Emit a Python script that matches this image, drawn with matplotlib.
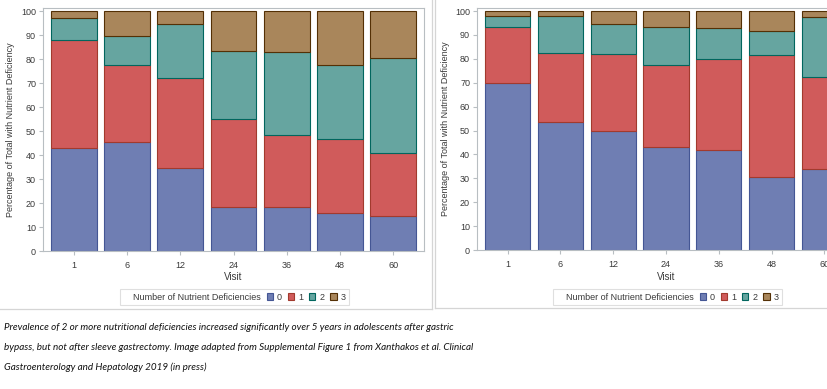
import matplotlib
matplotlib.use("Agg")
import matplotlib.pyplot as plt
from matplotlib.patches import Rectangle
from matplotlib.lines import Line2D
import numpy as np

visits = ['1', '6', '12', '24', '36', '48', '60']
categories = ['0', '1', '2', '3']

bypass_0 = [43, 45.5, 34.5, 18.5, 18.5, 16, 14.5]
bypass_1 = [45, 32, 37.5, 36.5, 30, 30.5, 26.5]
bypass_2 = [9, 12, 22.5, 28.5, 34.5, 31, 39.5]
bypass_3 = [3, 10.5, 5.5, 16.5, 17, 22.5, 19.5]

sleeve_0 = [70, 53.5, 50, 43, 42, 30.5, 34]
sleeve_1 = [23.5, 29, 32, 34.5, 38, 51, 38.5]
sleeve_2 = [4.5, 15.5, 12.5, 16, 13, 10, 25]
sleeve_3 = [2, 2, 5.5, 6.5, 7, 8.5, 2.5]

fills = ['#6F7EB3', '#D05B5B', '#66A5A0', '#A9865B']
edges = ['#445694', '#A23A2E', '#01665E', '#543005']

caption_lines = [
    "Prevalence of 2 or more nutritional deficiencies increased significantly over 5 years in adolescents after gastric",
    "bypass, but not after sleeve gastrectomy. Image adapted from Supplemental Figure 1 from Xanthakos et al. Clinical",
    "Gastroenterology and Hepatology 2019 (in press)",
]

W, H = 827, 389
fig = plt.figure(figsize=(W / 100, H / 100), dpi=100)
plt.rcParams['font.family'] = ['Liberation Sans', 'DejaVu Sans']

txt_col = '#3a3a3a'
spine_col = '#B8BEC2'


def px_axes(x0, x1, ytop, ybot):
    return [x0 / W, 1 - ybot / H, (x1 - x0) / W, (ybot - ytop) / H]


def draw_panel(rect, series, legend_cx, legend_cy):
    ax = fig.add_axes(rect)
    x = np.arange(len(visits))
    bottom = np.zeros(len(visits))
    handles = []
    for vals, fc, ec, lab in zip(series, fills, edges, categories):
        ax.bar(x, vals, bottom=bottom, width=0.86, color=fc, edgecolor=ec,
               linewidth=0.8)
        bottom += np.array(vals)
        handles.append(Rectangle((0, 0), 1, 1, facecolor=fc, edgecolor=ec, linewidth=0.8))
    ax.set_xlim(-0.58, len(visits) - 1 + 0.58)
    ax.set_ylim(0, 101.3)
    ax.set_yticks(range(0, 101, 10))
    ax.set_xticks(x)
    ax.set_xticklabels(visits)
    ax.tick_params(axis='both', labelsize=6.5, colors=spine_col, labelcolor=txt_col,
                   length=3, width=0.8, pad=2)
    ax.tick_params(axis='x', pad=4)
    for s in ax.spines.values():
        s.set_color(spine_col)
        s.set_linewidth(0.8)
    ax.set_xlabel('Visit', fontsize=7, color=txt_col, labelpad=2)
    ax.set_ylabel('Percentage of Total with Nutrient Deficiency', fontsize=6.5,
                  color=txt_col, labelpad=4)
    blank = Rectangle((0, 0), 1, 1, visible=False)
    leg = fig.legend([blank] + handles,
                     ['Number of Nutrient Deficiencies'] + categories,
                     loc='center', bbox_to_anchor=(legend_cx / W, 1 - legend_cy / H),
                     ncol=5, fontsize=6.5, frameon=True, fancybox=False,
                     handlelength=0.7, handleheight=0.7, handletextpad=0.4,
                     columnspacing=0.7, borderpad=0.35, borderaxespad=0)
    leg.get_frame().set_edgecolor('#D8D8D8')
    leg.get_frame().set_linewidth(0.8)
    for t in leg.get_texts():
        t.set_color(txt_col)
    return ax


draw_panel(px_axes(43, 424, 8, 251),
           [bypass_0, bypass_1, bypass_2, bypass_3], 234, 297)
draw_panel(px_axes(477, 855, 8, 250),
           [sleeve_0, sleeve_1, sleeve_2, sleeve_3], 667, 297)

# panel borders
bc = '#D5D5D5'
fig.add_artist(Line2D([432 / W, 432 / W], [1 - 309 / H, 1], transform=fig.transFigure,
                      color=bc, linewidth=0.9))
fig.add_artist(Line2D([0, 432 / W], [1 - 309 / H, 1 - 309 / H], transform=fig.transFigure,
                      color=bc, linewidth=0.9))
fig.add_artist(Line2D([435 / W, 435 / W], [1 - 308 / H, 1], transform=fig.transFigure,
                      color=bc, linewidth=0.9))
fig.add_artist(Line2D([435 / W, 1], [1 - 308 / H, 1 - 308 / H], transform=fig.transFigure,
                      color=bc, linewidth=0.9))

for line, yc in zip(caption_lines, [328, 348, 367]):
    fig.text(4 / W, 1 - yc / H, line, ha='left', va='center', fontsize=7.1,
             family=['Lato', 'DejaVu Sans'], style='italic', color='#111111')

fig.savefig('out.png', dpi=100)
